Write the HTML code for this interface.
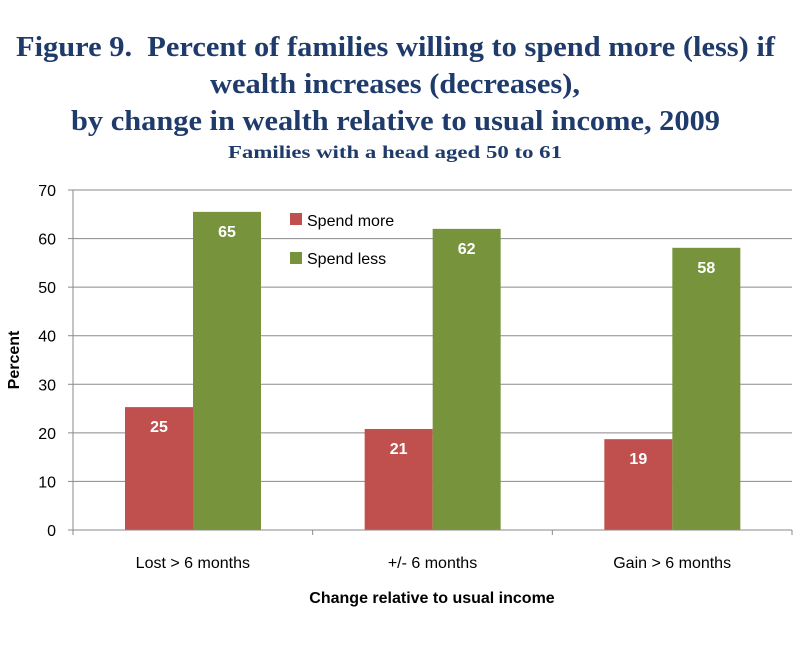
<!DOCTYPE html>
<html><head><meta charset="utf-8"><style>
body{margin:0;background:#fff;width:800px;height:645px;overflow:hidden}
.t{font-family:"Liberation Serif",serif;font-weight:bold;fill:#1f3b6b}
.s{font-family:"Liberation Sans",sans-serif;font-size:16px;fill:#000}
</style></head><body>
<svg id="c" width="800" height="645" xmlns="http://www.w3.org/2000/svg">
<text class="t" x="16" y="56" font-size="28" textLength="759" lengthAdjust="spacingAndGlyphs">Figure 9.&#160; Percent of families willing to spend more (less) if</text>
<text class="t" x="210" y="93" font-size="28" textLength="370" lengthAdjust="spacingAndGlyphs">wealth increases (decreases),</text>
<text class="t" x="71" y="130" font-size="28" textLength="649" lengthAdjust="spacingAndGlyphs">by change in wealth relative to usual income, 2009</text>
<text class="t" x="228" y="158" font-size="18" textLength="334" lengthAdjust="spacingAndGlyphs">Families with a head aged 50 to 61</text>
<g id="grid"></g><g id="bars"></g><g id="axes"></g>
<text class="s" x="19" y="360" font-weight="bold" font-size="15" text-anchor="middle" transform="rotate(-90 19 360)">Percent</text>
<text class="s" x="432" y="603" font-weight="bold" font-size="16" text-anchor="middle">Change relative to usual income</text>
<rect x="290" y="213" width="12" height="12" fill="#c0504d"/>
<text class="s" x="307" y="226">Spend more</text>
<rect x="290" y="252" width="12" height="12" fill="#77933c"/>
<text class="s" x="307" y="264">Spend less</text>
</svg>
<script>
const categories=["Lost > 6 months","+/- 6 months","Gain > 6 months"];
const spendMore=[25.3,20.8,18.7];
const spendLess=[65.5,62,58.1];
const spendMoreLabels=["25","21","19"];
const spendLessLabels=["65","62","58"];
const yTicks=[0,10,20,30,40,50,60,70];
const NS="http://www.w3.org/2000/svg";
const X0=73,X1=792,Y0=530,Y1=190,YMAX=70;
const gw=(X1-X0)/categories.length;
function y(v){return Y0-(v/YMAX)*(Y0-Y1);}
function gx(i){return X0+i*gw;}
function mk(tag,attrs,parent,text){const e=document.createElementNS(NS,tag);for(const k in attrs)e.setAttribute(k,attrs[k]);if(text!==undefined)e.textContent=text;document.getElementById(parent).appendChild(e);return e;}
yTicks.forEach(t=>{
 if(t>0){const g=mk('line',{x1:X0,x2:X1,y1:y(t),y2:y(t),stroke:'#8a8a8a','stroke-width':1},'grid');
 
 }
 const tk=mk('line',{x1:68,x2:X0,y1:y(t),y2:y(t),stroke:'#8a8a8a'},'axes');
 
 
 const l=mk('text',{x:56,y:y(t)+6,'text-anchor':'end',class:'s','font-size':'17'},'axes',String(t));
 
 
});
const ya=mk('line',{x1:X0,x2:X0,y1:Y1,y2:Y0+5,stroke:'#8a8a8a'},'axes');


const xa=mk('line',{x1:X0,x2:X1,y1:Y0,y2:Y0,stroke:'#8a8a8a'},'axes');


for(let i=0;i<=categories.length;i++){
 const tk=mk('line',{x1:gx(i),x2:gx(i),y1:Y0,y2:Y0+5,stroke:'#8a8a8a'},'axes');
 
 
}
const bw=68,off=52;
categories.forEach((c,i)=>{
 const x=gx(i)+off;
 const r=mk('rect',{x:x,y:y(spendMore[i]),width:bw,height:Y0-y(spendMore[i]),fill:'#c0504d'},'bars');
 
 
 const g=mk('rect',{x:x+bw,y:y(spendLess[i]),width:bw,height:Y0-y(spendLess[i]),fill:'#77933c'},'bars');
 
 
 const a=mk('text',{x:x+bw/2,y:y(spendMore[i])+25,'text-anchor':'middle',class:'s','font-weight':'bold',style:'fill:#fff'},'bars',spendMoreLabels[i]);
 
 
 const b=mk('text',{x:x+bw*1.5,y:y(spendLess[i])+25,'text-anchor':'middle',class:'s','font-weight':'bold',style:'fill:#fff'},'bars',spendLessLabels[i]);
 
 
 const cl=mk('text',{x:gx(i)+gw/2,y:568,'text-anchor':'middle',class:'s'},'axes',c);
 
 
});
</script>
</body></html>
